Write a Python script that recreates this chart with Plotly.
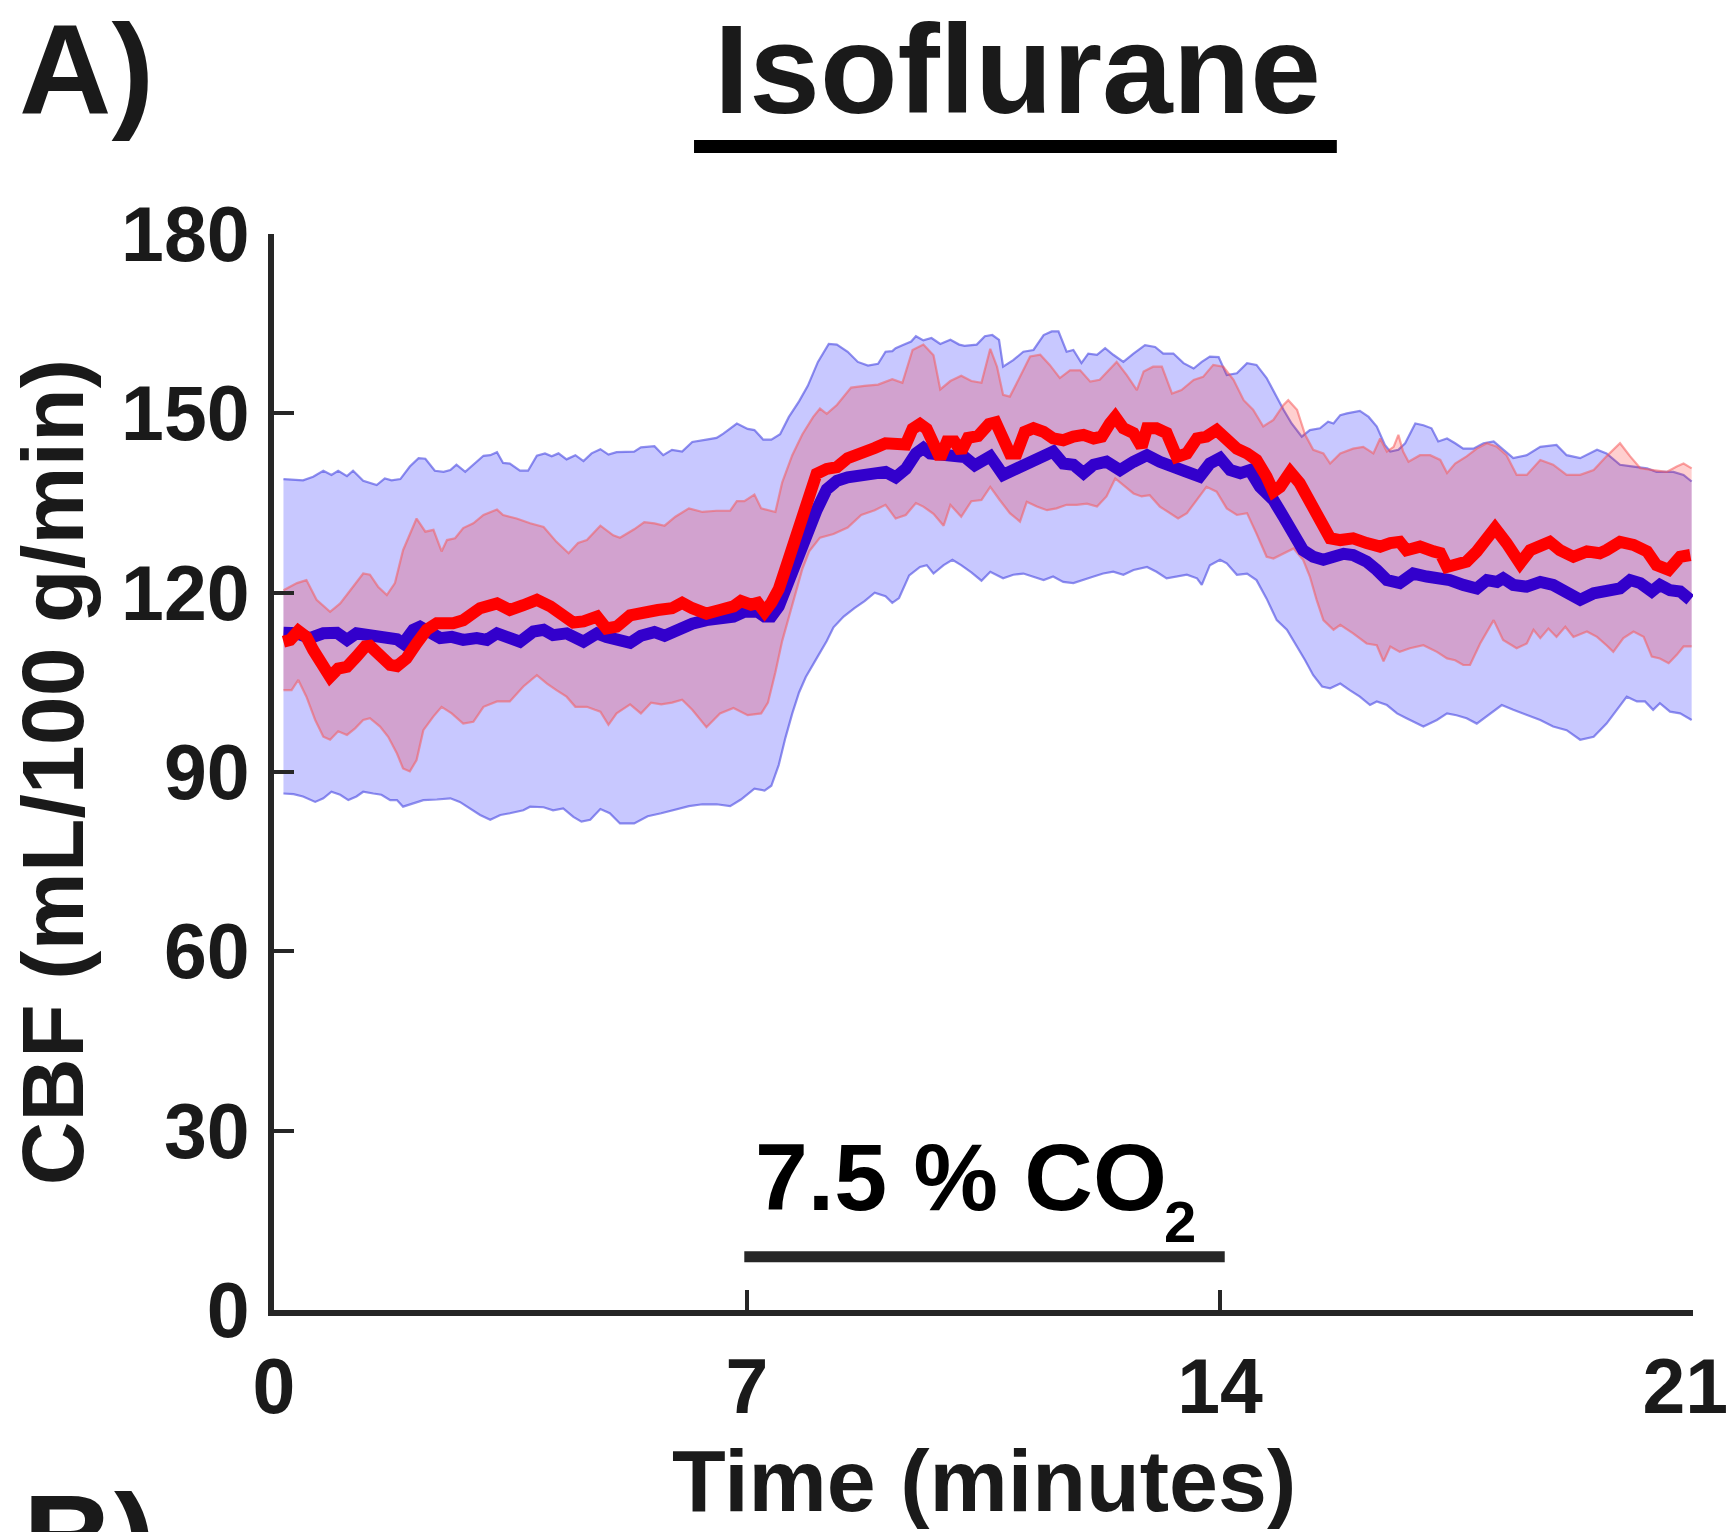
import plotly.graph_objects as go

# ---------------- data (minutes, mL/100 g/min) ----------------
blue_mean_t = [0.14,0.34,0.53,0.73,0.93,1.08,1.22,1.42,1.62,1.82,1.91,2.06,2.16,2.31,2.46,2.63,2.80,3.00,3.15,3.30,3.44,3.64,3.84,3.99,4.13,4.33,4.58,4.78,4.92,5.07,
               5.27,5.43,5.63,5.78,5.99,6.19,6.40,6.60,6.80,6.96,7.16,7.26,7.36,7.47,7.57,7.67,7.77,7.90,8.03,8.18,8.33,8.49,8.69,8.89,9.05,9.20,9.35,9.50,9.61,9.71,9.91,10.07,10.22,10.37,10.52,
               10.60,10.79,10.99,11.19,11.39,11.53,11.68,11.83,11.98,12.13,12.32,12.52,12.72,12.92,13.11,13.31,13.51,13.70,13.85,14.00,14.15,14.30,14.44,14.59,14.79,14.94,15.09,15.23,15.38,15.53,15.68,
               15.83,15.97,16.17,16.32,16.47,16.66,16.86,17.06,17.26,17.40,17.60,17.80,17.95,18.10,18.19,18.34,18.54,18.74,18.93,19.13,19.33,19.53,19.72,19.92,20.07,20.22,20.39,20.51,20.66,20.81,20.96]
blue_mean_v = [113.3,113.2,112.4,113.2,113.3,112.1,113.2,112.8,112.4,112.2,111.5,113.8,114.3,113.2,112.4,112.6,112.1,112.4,112.1,113.2,112.6,111.8,113.5,113.8,112.9,113.2,111.8,113.2,112.6,112.1,
               111.6,112.8,113.4,112.8,113.9,114.8,115.4,115.7,116.0,116.8,116.8,116.0,116.0,117.7,120.6,124.0,126.9,130.4,133.8,137.3,138.7,139.3,139.6,139.9,140.2,139.3,140.7,143.3,144.2,143.3,143.0,143.0,142.7,141.3,142.5,
               142.8,139.7,140.8,141.6,142.5,143.6,141.6,141.4,140.0,141.4,141.9,140.5,141.9,143.0,141.9,140.8,140.2,139.4,141.6,142.5,140.5,140.0,140.5,137.7,135.5,132.7,129.9,127.1,126.0,125.5,126.0,
               126.5,126.3,125.2,123.8,122.1,121.6,123.2,122.7,122.4,122.1,121.3,120.7,122.1,121.8,122.4,121.3,121.0,121.8,121.3,120.2,118.8,119.9,120.4,120.7,122.1,121.6,120.2,121.3,120.4,120.2,118.8]

blue_upper_t = [0.14,0.43,0.58,0.73,0.85,0.95,1.08,1.17,1.32,1.52,1.64,1.74,1.87,2.01,2.14,2.24,2.38,2.51,2.61,2.70,2.83,2.95,3.10,3.20,3.30,3.39,3.49,3.64,3.76,3.89,4.01,4.11,4.21,4.33,4.46,4.58,4.70,4.83,4.95,5.07,
                5.33,5.43,5.63,5.76,5.89,6.04,6.19,6.40,6.55,6.65,6.85,7.01,7.11,7.24,7.36,7.49,7.62,7.77,7.90,8.05,8.21,8.33,8.49,8.64,8.79,8.94,9.05,9.15,9.20,9.30,9.43,9.50,9.61,9.73,9.86,10.01,10.14,10.22,10.40,10.52,10.63,10.73,
                10.79,10.94,11.09,11.24,11.39,11.51,11.61,11.73,11.83,11.95,12.05,12.18,12.30,12.42,12.57,12.72,12.89,13.04,13.16,13.31,13.46,13.61,13.73,13.85,13.98,14.10,14.25,14.40,14.54,14.69,14.81,14.94,15.06,15.21,15.33,15.48,15.60,15.68,
                15.78,15.88,16.07,16.20,16.32,16.44,16.52,16.64,16.74,16.89,17.01,17.13,17.23,17.36,17.48,17.60,17.75,17.90,18.05,18.19,18.34,18.54,18.74,18.98,19.13,19.33,19.58,19.72,19.92,20.12,20.32,20.46,20.71,20.86,20.98]
blue_upper_v = [139.0,138.8,139.4,140.4,139.7,140.4,139.5,140.4,138.7,138.0,139.1,138.8,139.0,141.1,142.5,142.4,140.4,140.2,140.5,141.4,140.2,141.4,142.9,143.0,143.5,141.7,141.6,140.4,140.4,142.9,143.3,142.8,143.3,142.3,143.0,142.0,143.3,144.0,143.1,143.5,
                143.6,144.3,144.5,143.0,143.9,143.6,145.2,145.6,145.9,146.6,148.3,147.4,147.2,145.6,145.6,146.5,149.4,152.0,154.6,158.6,161.6,161.5,160.3,158.6,158.0,158.3,160.3,160.4,160.9,161.4,162.0,162.9,162.2,162.6,161.6,162.3,161.5,161.3,161.5,162.9,163.1,162.3,
                157.8,158.9,160.3,160.6,163.1,163.7,163.7,160.3,160.6,158.4,160.0,159.8,160.9,159.8,158.6,160.0,161.4,161.1,160.0,160.0,158.4,157.5,158.6,159.5,159.4,156.4,156.7,158.4,158.1,155.9,153.3,150.6,148.3,146.1,147.2,147.5,148.6,148.3,
                149.7,150.0,150.4,149.4,147.8,144.7,143.6,143.9,145.0,148.3,148.0,147.5,145.3,145.8,145.0,144.1,144.1,145.0,145.3,143.9,142.5,143.0,144.4,144.7,143.0,142.5,143.9,143.3,141.4,141.1,140.8,140.2,140.2,139.7,138.6]

blue_lower_t = [0.14,0.29,0.43,0.61,0.73,0.85,0.98,1.10,1.22,1.32,1.47,1.59,1.72,1.82,1.91,2.06,2.21,2.41,2.61,2.75,2.90,3.05,3.20,3.35,3.49,3.69,3.79,3.99,4.13,4.28,4.43,4.55,4.68,4.83,4.97,5.12,
                5.33,5.53,5.73,5.94,6.14,6.34,6.55,6.75,6.91,7.11,7.26,7.36,7.47,7.57,7.67,7.77,7.87,8.03,8.18,8.28,8.43,8.59,8.74,8.89,9.05,9.15,9.25,9.40,9.56,9.66,9.76,9.91,10.04,10.17,10.32,10.47,
                10.60,10.79,10.94,11.09,11.24,11.39,11.53,11.68,11.83,11.98,12.13,12.27,12.42,12.57,12.72,12.92,13.06,13.21,13.36,13.51,13.66,13.73,13.85,14.00,14.10,14.25,14.40,14.54,14.69,14.84,14.99,15.14,15.26,15.38,15.51,15.63,
                15.78,15.92,16.07,16.22,16.32,16.47,16.62,16.76,17.01,17.21,17.36,17.50,17.65,17.80,17.95,18.17,18.34,18.54,18.74,18.93,19.13,19.33,19.53,19.72,19.87,20.02,20.17,20.29,20.41,20.51,20.66,20.81,20.98]
blue_lower_v = [86.4,86.3,85.9,85.0,85.6,86.7,86.2,85.3,85.9,86.7,86.4,86.2,85.3,85.3,84.2,84.8,85.3,85.4,85.6,85.0,83.9,82.8,82.0,82.8,83.1,83.6,84.2,84.1,83.6,83.9,82.5,81.7,82.0,83.8,83.1,81.4,
                81.4,82.6,83.1,83.7,84.3,84.6,84.6,84.3,85.4,87.2,86.9,87.7,91.2,95.8,99.8,103.3,105.9,109.0,111.9,114.2,116.0,117.4,118.6,120.0,119.4,118.3,119.1,122.9,124.3,124.6,123.2,124.6,125.5,124.6,123.4,122.0,
                123.5,122.4,123.0,123.2,122.7,122.1,122.7,121.8,121.6,122.1,122.7,123.2,123.5,123.0,123.8,124.3,123.5,122.4,122.7,123.0,122.4,121.3,124.6,125.5,124.9,123.0,123.2,122.1,119.0,115.4,113.8,111.0,108.7,106.2,104.3,104.0,
                104.8,103.7,102.6,101.2,101.8,101.2,99.8,99.0,97.6,98.7,99.8,99.5,99.0,98.1,99.3,101.2,100.4,99.5,98.7,97.6,97.0,95.4,95.9,98.1,100.4,102.6,101.8,101.8,100.4,101.5,100.1,99.8,98.7]

red_mean_t = [0.14,0.24,0.36,0.48,0.58,0.71,0.83,0.95,1.08,1.22,1.35,1.42,1.57,1.72,1.82,1.96,2.11,2.26,2.41,2.56,2.65,2.80,2.90,3.05,3.30,3.49,3.69,3.89,4.09,4.28,4.43,4.58,4.78,4.92,5.07,
              5.27,5.48,5.68,5.89,6.04,6.19,6.40,6.60,6.80,6.91,7.06,7.16,7.26,7.36,7.47,7.57,7.67,7.77,7.90,8.03,8.18,8.33,8.49,8.69,8.89,9.05,9.20,9.35,9.45,9.56,9.66,9.76,9.86,9.96,10.07,10.17,10.27,10.42,10.58,10.68,10.74,
              10.89,10.99,11.11,11.24,11.39,11.53,11.68,11.83,11.98,12.13,12.25,12.37,12.45,12.57,12.72,12.84,12.92,13.06,13.21,13.36,13.51,13.66,13.80,13.95,14.10,14.25,14.40,14.54,14.69,14.79,14.89,15.04,15.18,15.33,15.48,15.63,
              15.78,15.97,16.17,16.37,16.52,16.66,16.76,16.96,17.16,17.26,17.36,17.50,17.65,17.80,17.95,18.07,18.24,18.44,18.59,18.74,18.88,19.03,19.23,19.43,19.62,19.72,19.92,20.12,20.32,20.46,20.64,20.81,20.96]
red_mean_v = [111.8,112.1,113.6,112.6,110.4,107.6,105.9,107.3,107.6,109.3,111.0,111.1,109.3,107.9,107.7,109.0,111.5,113.8,114.9,114.6,114.9,115.4,116.0,117.4,118.2,117.1,117.9,118.8,117.7,116.0,115.0,115.2,116.0,114.0,114.3,
              116.2,116.8,117.1,117.4,118.3,117.4,116.5,117.1,117.7,118.6,118.0,118.3,116.8,118.3,120.6,124.0,127.5,132.1,136.7,139.9,140.7,141.0,142.5,143.6,144.2,145.0,144.8,144.8,147.4,148.2,147.4,145.3,142.5,145.3,145.3,143.6,145.9,146.2,148.2,148.5,146.7,
              143.3,143.3,146.9,147.5,146.9,145.8,145.5,146.1,146.4,145.8,146.1,148.3,149.4,147.5,146.7,144.4,147.5,147.5,146.7,142.7,143.3,145.8,146.1,147.2,145.5,144.1,143.3,142.2,139.4,136.9,137.7,140.2,138.3,135.5,132.2,129.1,
              128.8,129.1,128.3,127.7,128.3,128.5,127.1,127.7,126.9,126.6,124.3,124.9,125.2,126.9,129.4,130.8,128.3,124.9,127.1,127.7,128.5,127.1,126.0,126.9,126.6,127.1,128.5,128.0,126.9,124.6,123.8,126.0,126.3]

red_upper_t = [0.14,0.34,0.48,0.63,0.83,0.98,1.13,1.32,1.42,1.54,1.67,1.79,1.91,2.11,2.24,2.36,2.48,2.56,2.68,2.80,2.95,3.10,3.30,3.39,3.59,3.79,3.99,4.18,4.36,4.50,4.63,4.83,5.02,
               5.12,5.33,5.48,5.63,5.78,5.94,6.14,6.34,6.55,6.75,6.85,6.96,7.11,7.21,7.42,7.52,7.67,7.82,7.98,8.08,8.18,8.33,8.54,8.74,8.94,9.15,9.30,9.45,9.61,9.76,9.86,10.01,10.17,10.32,10.47,10.60,
               10.70,10.79,10.89,11.04,11.19,11.34,11.48,11.63,11.78,11.93,12.08,12.22,12.37,12.47,12.62,12.77,12.87,13.01,13.14,13.29,13.43,13.61,13.75,13.90,14.05,14.20,14.35,14.49,14.64,14.79,14.94,15.01,15.14,15.26,15.38,15.53,15.63,
               15.78,15.97,16.12,16.27,16.37,16.47,16.57,16.64,16.71,16.79,16.96,17.11,17.26,17.36,17.48,17.65,17.80,17.95,18.10,18.24,18.39,18.54,18.74,18.93,19.13,19.33,19.53,19.72,19.92,20.07,20.22,20.41,20.61,20.76,20.86,20.98]
red_upper_v = [120.4,121.6,122.1,118.8,116.8,118.2,120.4,123.2,123.0,121.0,119.6,121.6,127.1,132.4,130.2,130.5,126.9,128.8,129.1,130.8,131.6,133.0,133.9,133.0,132.4,131.6,131.0,128.5,126.6,128.3,128.8,131.2,129.6,
               129.2,130.6,131.8,131.6,131.2,132.7,134.1,133.5,133.7,133.7,135.3,135.3,136.4,134.1,133.5,138.4,143.0,146.5,149.4,150.8,149.9,151.4,154.3,154.6,154.8,155.7,155.1,160.6,161.5,159.7,154.0,155.4,156.3,155.4,155.1,160.8,
               157.8,153.1,152.8,156.1,159.5,159.8,158.1,155.9,157.2,157.2,155.3,155.6,157.5,158.6,156.4,153.9,157.0,157.8,157.8,153.3,153.9,155.6,156.1,158.1,157.8,155.6,152.2,150.6,147.8,148.9,151.4,152.2,150.6,146.4,143.9,143.3,141.6,
               143.3,144.1,144.4,143.3,145.8,143.6,144.4,146.4,143.6,141.9,143.0,143.0,142.2,140.0,141.6,142.8,144.1,145.0,144.4,143.0,139.7,139.7,142.2,141.4,139.7,139.7,140.5,142.8,145.0,142.8,140.8,140.5,140.2,141.1,141.6,140.8]

red_lower_t = [0.14,0.26,0.36,0.48,0.61,0.73,0.83,0.95,1.08,1.20,1.32,1.42,1.57,1.69,1.82,1.91,2.01,2.11,2.21,2.36,2.48,2.63,2.80,2.95,3.10,3.30,3.49,3.69,3.89,4.04,4.18,4.33,4.46,4.63,4.75,4.83,4.95,5.07,
               5.27,5.43,5.58,5.73,5.89,6.04,6.19,6.40,6.60,6.80,7.01,7.21,7.31,7.42,7.52,7.62,7.72,7.82,7.92,8.08,8.28,8.49,8.69,8.89,9.05,9.20,9.35,9.50,9.61,9.76,9.91,10.01,10.17,10.32,10.47,
               10.60,10.74,10.89,11.04,11.14,11.29,11.44,11.58,11.73,11.88,12.03,12.18,12.32,12.45,12.57,12.72,12.84,12.96,13.11,13.26,13.38,13.51,13.66,13.80,13.95,14.10,14.25,14.40,14.54,14.69,14.79,14.94,15.09,15.23,15.33,15.43,15.53,15.68,
               15.78,15.97,16.17,16.32,16.42,16.52,16.66,16.81,17.01,17.21,17.36,17.48,17.60,17.70,17.85,18.05,18.19,18.39,18.54,18.64,18.74,18.86,18.98,19.11,19.23,19.43,19.58,19.72,19.82,19.97,20.12,20.27,20.39,20.51,20.64,20.76,20.86,20.98]
red_lower_v = [103.7,103.7,105.4,102.6,98.7,95.9,95.4,96.8,96.2,97.3,98.7,99.0,97.6,95.9,93.1,90.6,90.1,92.0,97.0,99.3,100.9,99.8,98.1,98.4,100.9,101.8,101.8,104.3,106.2,104.8,103.7,102.6,100.9,100.9,100.4,100.1,97.9,99.8,
               101.3,99.8,101.6,101.3,101.6,102.1,100.4,97.5,99.8,100.7,99.5,99.8,101.6,106.7,111.9,116.0,120.0,124.0,126.9,129.2,129.8,130.9,133.0,133.8,134.7,132.4,133.0,135.0,134.4,133.2,131.2,134.7,132.7,135.3,135.5,
               137.7,135.5,133.3,131.9,135.2,134.4,133.8,134.1,134.7,134.7,134.9,134.4,136.1,139.1,138.0,136.6,136.1,136.3,134.4,133.3,132.4,133.3,135.5,137.7,136.9,134.1,133.0,133.3,129.9,126.0,125.7,126.6,127.4,125.5,122.7,118.8,115.4,113.8,
               114.6,113.2,111.5,111.2,108.5,111.0,110.1,110.7,111.2,110.1,109.0,108.7,107.9,107.9,111.5,115.4,112.1,110.7,111.5,113.8,112.4,114.0,112.6,114.3,112.6,113.5,112.6,111.2,110.1,112.4,113.5,112.6,109.3,109.0,108.2,109.6,111.0,111.0]

x_ticks = [0, 7, 14, 21]
x_tick_labels = ["0", "7", "14", "21\u2009"]
y_ticks = [0, 30, 60, 90, 120, 150, 180]
co2_window = [6.96, 14.07]
co2_bar_level = [8.9]

# ---------------- styling ----------------
AX = "#262626"
FONT = "Liberation Sans"
BLUE_FILL = "rgba(0,0,255,0.215)"
BLUE_EDGE = "rgba(70,70,225,0.6)"
RED_FILL = "rgba(255,0,0,0.19)"
RED_EDGE = "rgba(245,90,90,0.55)"
BLUE_LINE = "#3300CC"
RED_LINE = "#FF0000"

fig = go.Figure()

def band(ut, uv, lt, lv, fill):
    fig.add_trace(go.Scatter(x=ut + lt[::-1], y=uv + lv[::-1], mode="lines",
                             fill="toself", fillcolor=fill, line=dict(width=0),
                             hoverinfo="skip", showlegend=False))

def edge(t, v, color):
    fig.add_trace(go.Scatter(x=t, y=v, mode="lines", line=dict(color=color, width=2.2),
                             hoverinfo="skip", showlegend=False))

band(blue_upper_t, blue_upper_v, blue_lower_t, blue_lower_v, BLUE_FILL)
edge(blue_upper_t, blue_upper_v, BLUE_EDGE)
edge(blue_lower_t, blue_lower_v, BLUE_EDGE)
band(red_upper_t, red_upper_v, red_lower_t, red_lower_v, RED_FILL)
edge(red_upper_t, red_upper_v, RED_EDGE)
edge(red_lower_t, red_lower_v, RED_EDGE)

fig.add_trace(go.Scatter(x=blue_mean_t, y=blue_mean_v, mode="lines",
                         line=dict(color=BLUE_LINE, width=12), showlegend=False))
fig.add_trace(go.Scatter(x=red_mean_t, y=red_mean_v, mode="lines",
                         line=dict(color=RED_LINE, width=12), showlegend=False))

# CO2 bar
fig.add_shape(type="line", xref="x", yref="y", x0=co2_window[0], x1=co2_window[1],
              y0=co2_bar_level[0], y1=co2_bar_level[0], line=dict(color=AX, width=11))

# title underline
fig.add_shape(type="line", xref="paper", yref="paper", x0=0.296, x1=0.749,
              y0=1.0813, y1=1.0813, line=dict(color="#000000", width=13))

def txt(text, x, y, size, xanchor="center", yanchor="middle", angle=0, color="#1a1a1a"):
    fig.add_annotation(text=text, x=x, y=y, xref="paper", yref="paper", showarrow=False,
                       xanchor=xanchor, yanchor=yanchor, textangle=angle,
                       font=dict(family=FONT, size=size, color=color, weight="bold"))

txt("Isoflurane", 0.524, 1.153, 127)
txt("A)", -0.181, 1.153, 128, xanchor="left")
txt("B)", -0.178, -0.213, 126, xanchor="left")
txt("CBF (mL/100 g/min)", -0.1563, 0.5, 88, angle=-90)
txt("Time (minutes)", 0.5, -0.158, 88)
txt("7.5 % CO", 0.3376, (1310 - 1177) / 1076, 95, xanchor="left", color="#000000")
txt("2", (1180 - 274) / 1419, (1310 - 1221) / 1076, 58, color="#000000")

axis_common = dict(showline=True, linecolor=AX, linewidth=6, ticks="inside", ticklen=20,
                   tickwidth=4, tickcolor=AX, showgrid=False, zeroline=False,
                   ticklabeloverflow="allow", automargin=False,
                   tickfont=dict(family=FONT, size=77, color="#1a1a1a", weight="bold"))

fig.update_layout(
    width=1733, height=1532,
    margin=dict(l=274, r=40, t=234, b=222, autoexpand=False),
    paper_bgcolor="white", plot_bgcolor="white",
    showlegend=False,
    xaxis=dict(range=[0, 21], tickvals=x_ticks, ticktext=x_tick_labels,
               ticklabelstandoff=5, **axis_common),
    yaxis=dict(range=[0, 180], tickvals=y_ticks, ticklabelstandoff=3, **axis_common),
)

fig.write_html("out.html")
